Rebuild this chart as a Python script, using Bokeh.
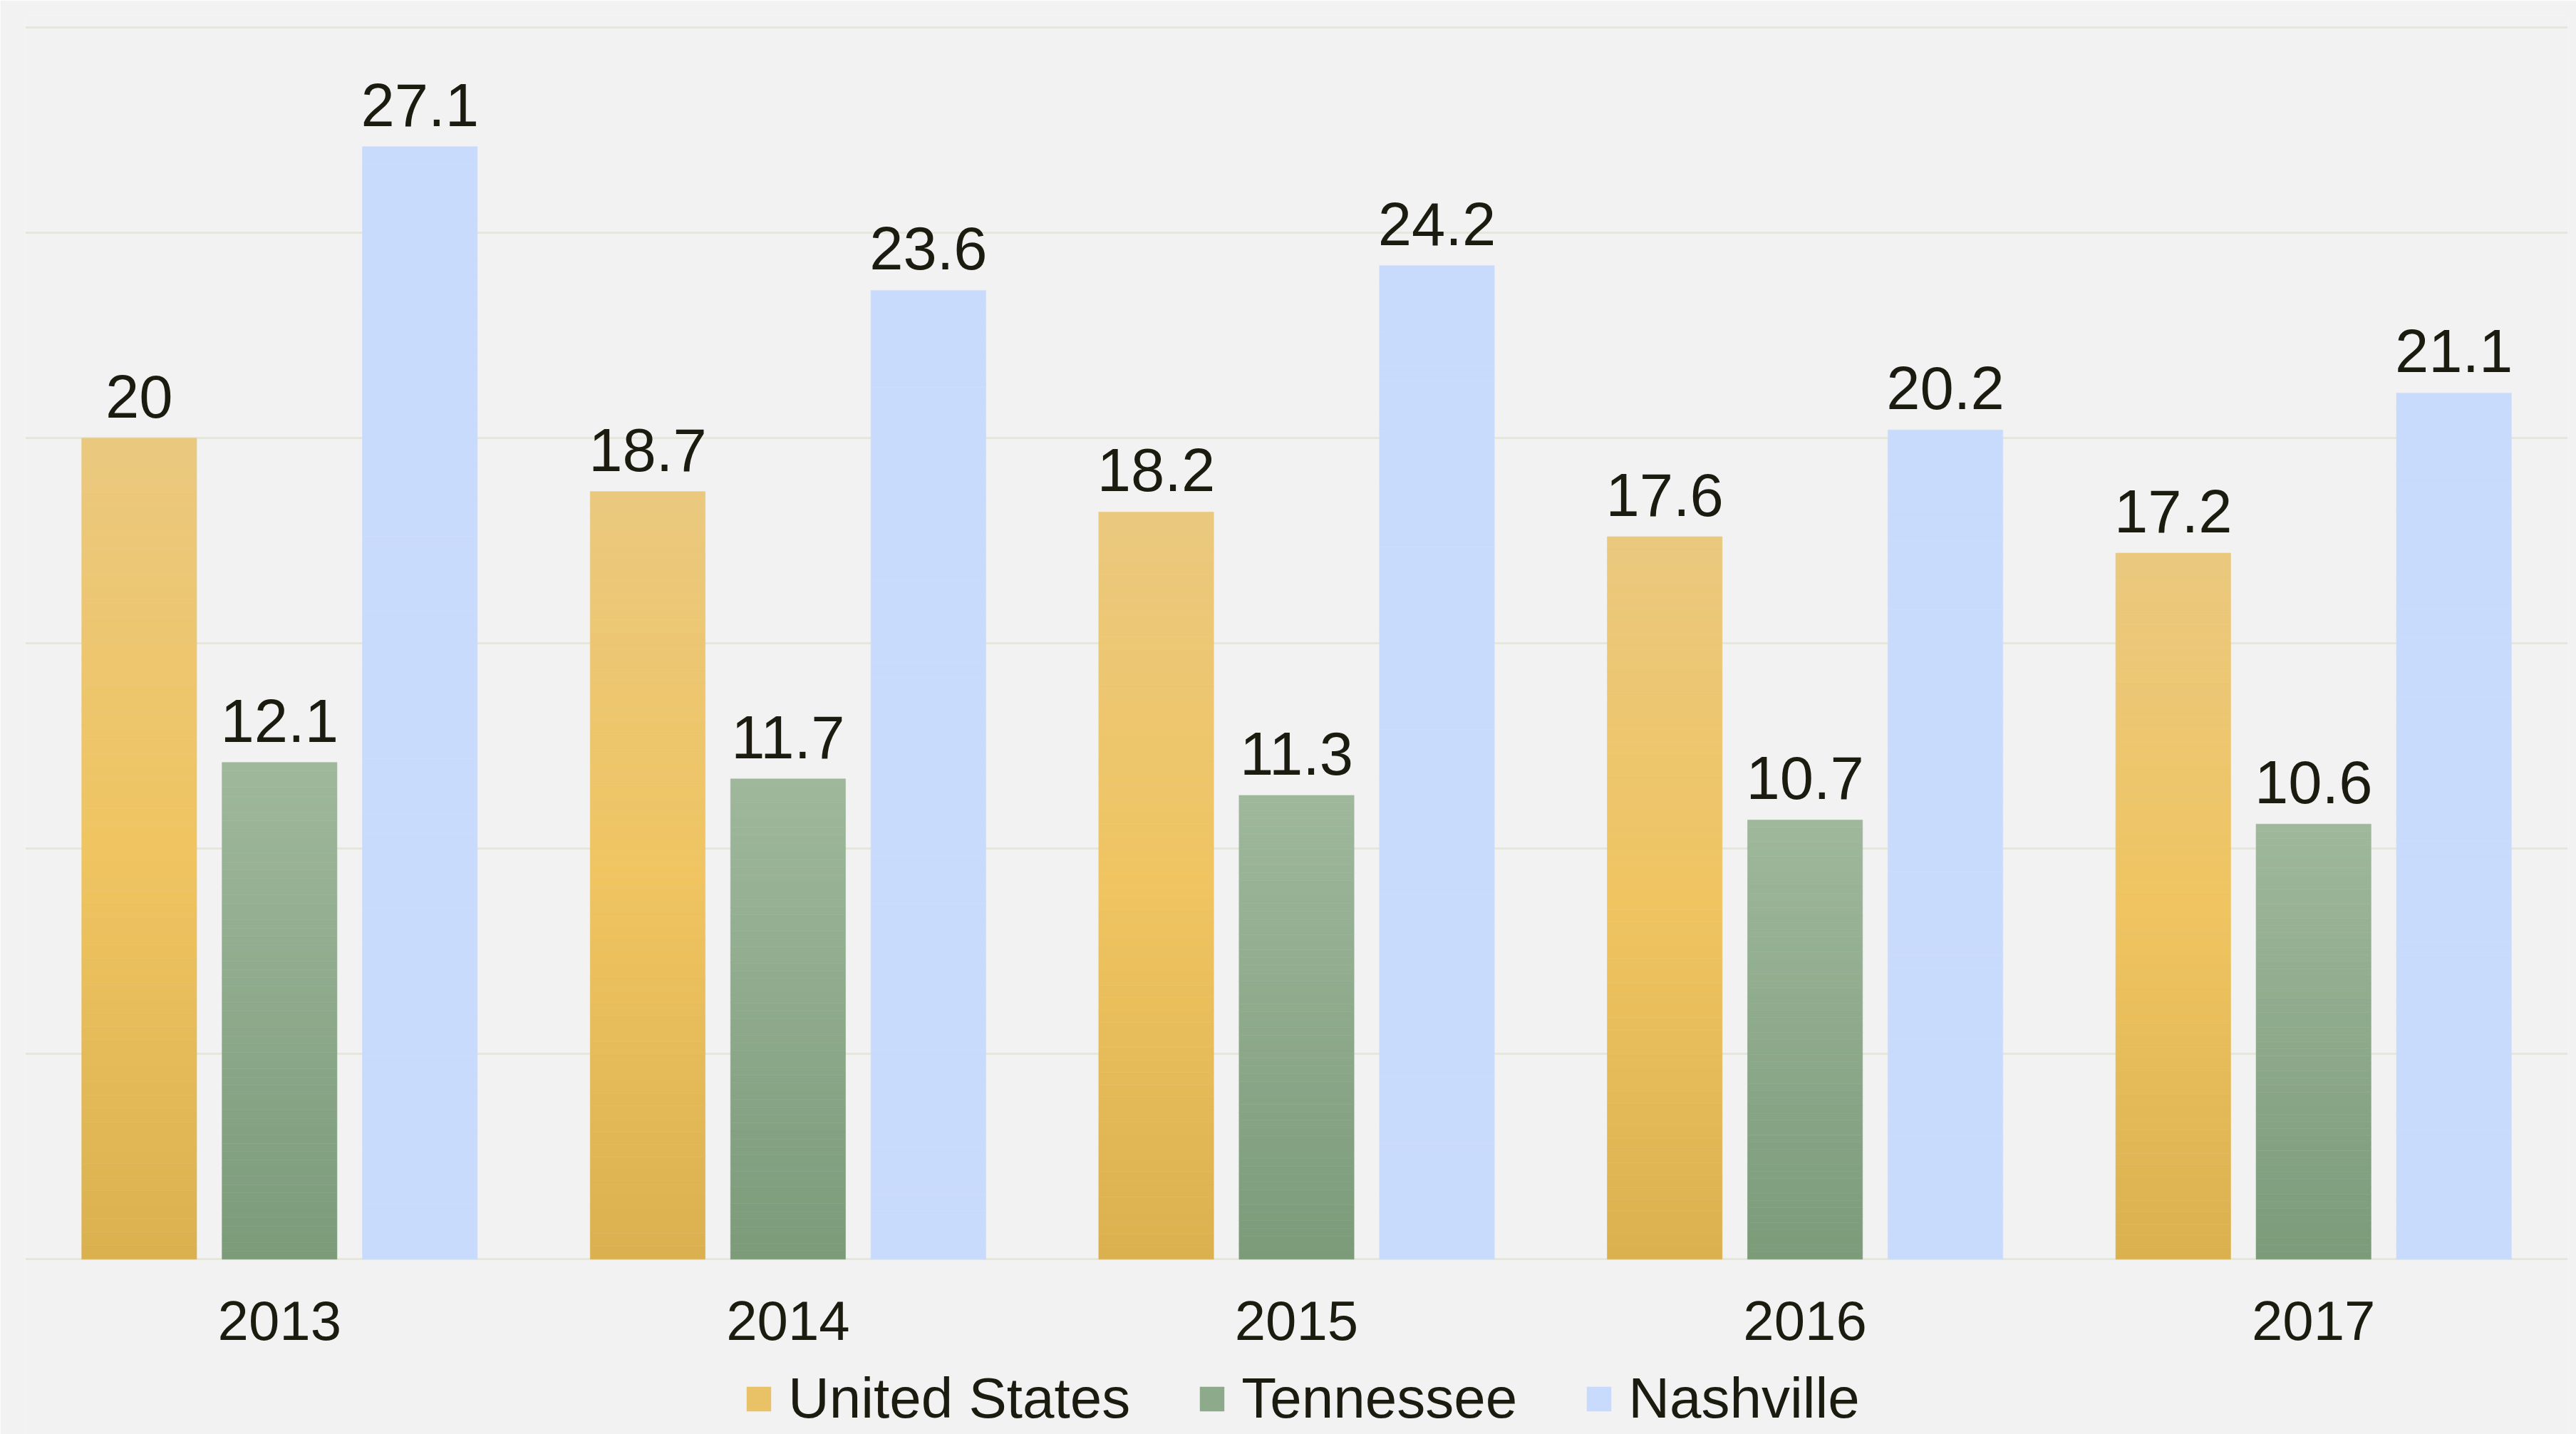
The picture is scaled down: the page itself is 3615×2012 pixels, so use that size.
from bokeh.plotting import figure
from bokeh.models import (ColumnDataSource, FactorRange, Range1d, LabelSet, Legend,
                          LegendItem, FixedTicker, Grid)
from bokeh.core.properties import value
from bokeh.transform import dodge
from bokeh.embed import file_html
from bokeh.resources import INLINE

years = ["2013", "2014", "2015", "2016", "2017"]
us = [20.0, 18.7, 18.2, 17.6, 17.2]
tn = [12.1, 11.7, 11.3, 10.7, 10.6]
nv = [27.1, 23.6, 24.2, 20.2, 21.1]
series_names = ["United States", "Tennessee", "Nashville"]
grid_ticks = [0, 5, 10, 15, 20, 25, 30]

FONT = "Liberation Sans"
TXT = "#1b1b10"
BG = "#f2f2f2"

# gradient stops (fraction from bar bottom, colour)
US_STOPS = [(0.0, (0xDB, 0xB0, 0x4F)), (0.5, (0xEF, 0xC4, 0x61)), (1.0, (0xEA, 0xC8, 0x7E))]
TN_STOPS = [(0.0, (0x7B, 0x9B, 0x79)), (1.0, (0x9F, 0xB8, 0x9C))]
NV_STOPS = [(0.0, (0xC9, 0xDB, 0xFC)), (1.0, (0xC9, 0xDB, 0xFC))]


def interp(stops, f):
    for (f0, c0), (f1, c1) in zip(stops[:-1], stops[1:]):
        if f0 <= f <= f1:
            t = (f - f0) / (f1 - f0) if f1 > f0 else 0
            return "#%02x%02x%02x" % tuple(int(round(a + (b - a) * t)) for a, b in zip(c0, c1))
    return "#%02x%02x%02x" % stops[-1][1]


def segments(vals, stops, n=60):
    xs, bots, tops, cols = [], [], [], []
    for yr, v in zip(years, vals):
        for k in range(n):
            xs.append(yr)
            bots.append(v * k / n)
            tops.append(v * (k + 1) / n)
            cols.append(interp(stops, (k + 0.5) / n))
    return ColumnDataSource(dict(x=xs, bottom=bots, top=tops, color=cols))


p = figure(x_range=FactorRange(*years, range_padding=0), y_range=Range1d(-4.266, 30.3),
           width=3615, height=2012, output_backend="svg", toolbar_location=None,
           x_axis_location=None, y_axis_location=None,
           background_fill_color=BG, border_fill_color=BG, outline_line_color=None,
           min_border_top=21, min_border_left=35, min_border_right=12, min_border_bottom=0)

for g in p.grid:
    g.visible = False
grid = Grid(dimension=1, ticker=FixedTicker(ticks=grid_ticks),
            grid_line_color="#e6e8d6", grid_line_width=3)
p.add_layout(grid)

W = 0.226
OFF = 0.276
legend_items = []
for vals, stops, off, name, flat in [(us, US_STOPS, -OFF, series_names[0], "#e9c166"),
                                     (tn, TN_STOPS, 0.0, series_names[1], "#8daa8a"),
                                     (nv, NV_STOPS, OFF, series_names[2], "#c9dbfc")]:
    src = segments(vals, stops)
    p.vbar(x=dodge("x", off, range=p.x_range), bottom="bottom", top="top", width=W,
           fill_color="color", line_color="color", line_width=0.6, source=src)
    lsrc = ColumnDataSource(dict(x=years, y=vals, t=[("%g" % v) for v in vals]))
    labels = LabelSet(x=dodge("x", off, range=p.x_range), y="y", text="t", source=lsrc,
                      text_align="center", text_baseline="alphabetic", y_offset=29,
                      text_font=value(FONT), text_font_size=value("85px"), text_color=value(TXT))
    p.add_layout(labels)
    dummy = p.vbar(x=[years[0]], bottom=[0], top=[0], width=W, fill_color=flat, line_color=None)
    legend_items.append(LegendItem(label=name, renderers=[dummy]))

# category (year) labels under the baseline
ysrc = ColumnDataSource(dict(x=years, y=[0] * len(years), t=years))
p.add_layout(LabelSet(x="x", y="y", text="t", source=ysrc, text_align="center",
                      text_baseline="alphabetic", y_offset=-113,
                      text_font=value(FONT), text_font_size=value("78px"),
                      text_color=value(TXT)))

legend = Legend(items=legend_items, orientation="horizontal", location=(1008, 4),
                glyph_width=43, glyph_height=43, label_standoff=20, spacing=93,
                label_text_font=FONT, label_text_font_size="80px", label_text_color=TXT,
                background_fill_alpha=0, border_line_color=None, padding=0, margin=0)
p.add_layout(legend, "center")

open("out.html", "w").write(file_html(p, INLINE))
